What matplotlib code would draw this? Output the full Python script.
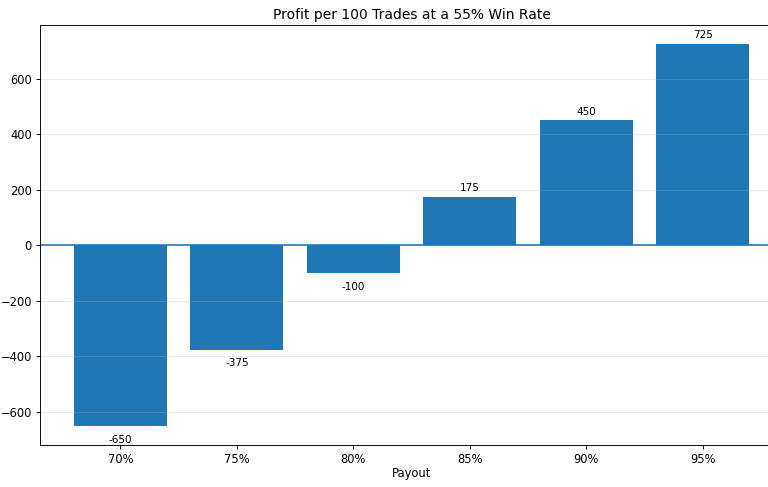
import matplotlib
matplotlib.use("Agg")
import matplotlib.pyplot as plt

# payout levels and profit per 100 trades at 55% win rate
payouts = ["70%", "75%", "80%", "85%", "90%", "95%"]
profits = [-650, -375, -100, 175, 450, 725]

DPI = 83
fig = plt.figure(figsize=(768 / DPI, 487 / DPI), dpi=DPI)
# axes runs a little past the right edge, like the original crop
ax = fig.add_axes([40 / 768, 1 - 445 / 487, 743 / 768, 420 / 487])

bars = ax.bar(payouts, profits, color="#1f77b4")
ax.axhline(0, color="#1f77b4", linewidth=1.4)

# value labels above / below each bar
for i, p in enumerate(profits):
    if p >= 0:
        ax.text(i, p + 14, str(p), ha="center", va="bottom", fontsize=9)
    else:
        ax.text(i, p - 32, str(p), ha="center", va="top", fontsize=9)

ax.grid(axis="y", alpha=0.3)
ax.set_title("Profit per 100 Trades at a 55% Win Rate", pad=5)
ax.set_xlabel("Payout", labelpad=0.5)

fig.savefig("out.png", dpi=DPI)
